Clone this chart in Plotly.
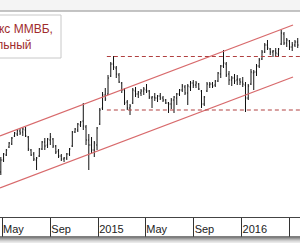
import plotly.graph_objects as go
import pandas as pd

# ---- data (weekly bars, MICEX index) ----
start_date = "2014-04-28"
n_bars = 109
opens = [1360, 1408, 1428, 1460, 1472, 1504, 1512, 1524, 1520, 1528,
         1500, 1448, 1432, 1408, 1424, 1452, 1480, 1468, 1488, 1492,
         1464, 1444, 1424, 1412, 1416, 1432, 1464, 1520, 1528, 1548,
         1564, 1540, 1488, 1468, 1448, 1468, 1552, 1616, 1668, 1672,
         1744, 1792, 1776, 1748, 1716, 1688, 1640, 1616, 1636, 1684,
         1672, 1676, 1684, 1688, 1684, 1656, 1660, 1656, 1664, 1656,
         1648, 1636, 1632, 1648, 1656, 1672, 1688, 1700, 1676, 1700,
         1716, 1708, 1712, 1684, 1632, 1684, 1708, 1712, 1708, 1724,
         1752, 1784, 1792, 1752, 1728, 1736, 1728, 1728, 1720, 1708,
         1656, 1712, 1756, 1760, 1784, 1812, 1840, 1868, 1852, 1840,
         1844, 1832, 1872, 1912, 1876, 1884, 1860, 1868, 1880]
highs = [1420, 1436, 1452, 1480, 1500, 1520, 1532, 1536, 1540, 1540,
         1504, 1452, 1440, 1420, 1456, 1484, 1496, 1496, 1516, 1496,
         1468, 1452, 1432, 1420, 1436, 1456, 1524, 1536, 1556, 1564,
         1636, 1548, 1512, 1500, 1484, 1540, 1616, 1680, 1696, 1748,
         1800, 1824, 1784, 1756, 1720, 1696, 1648, 1632, 1696, 1700,
         1684, 1692, 1700, 1712, 1688, 1664, 1676, 1668, 1676, 1664,
         1652, 1640, 1656, 1664, 1676, 1692, 1712, 1708, 1712, 1724,
         1728, 1724, 1716, 1688, 1664, 1720, 1720, 1720, 1728, 1760,
         1788, 1848, 1800, 1764, 1744, 1752, 1748, 1736, 1740, 1720,
         1712, 1772, 1768, 1792, 1816, 1848, 1876, 1888, 1856, 1848,
         1856, 1856, 1928, 1920, 1896, 1888, 1880, 1888, 1896]
lows = [1348, 1400, 1424, 1456, 1468, 1500, 1504, 1508, 1504, 1500,
        1444, 1424, 1404, 1368, 1420, 1448, 1448, 1456, 1468, 1456,
        1432, 1416, 1404, 1400, 1408, 1424, 1460, 1516, 1520, 1540,
        1528, 1468, 1368, 1436, 1420, 1448, 1548, 1608, 1644, 1668,
        1740, 1768, 1736, 1716, 1676, 1628, 1608, 1588, 1632, 1660,
        1656, 1664, 1668, 1676, 1652, 1616, 1644, 1640, 1648, 1640,
        1632, 1596, 1612, 1596, 1628, 1664, 1680, 1668, 1628, 1684,
        1696, 1696, 1688, 1616, 1624, 1680, 1696, 1696, 1700, 1720,
        1736, 1776, 1740, 1708, 1704, 1712, 1708, 1708, 1700, 1600,
        1648, 1708, 1688, 1744, 1776, 1808, 1836, 1848, 1828, 1820,
        1824, 1820, 1868, 1868, 1860, 1848, 1844, 1860, 1856]
closes = [1408, 1432, 1448, 1476, 1496, 1516, 1528, 1516, 1532, 1504,
          1452, 1428, 1412, 1416, 1452, 1480, 1464, 1492, 1500, 1464,
          1440, 1424, 1412, 1416, 1432, 1452, 1520, 1532, 1552, 1560,
          1544, 1488, 1468, 1448, 1476, 1536, 1608, 1668, 1652, 1736,
          1792, 1780, 1752, 1720, 1688, 1636, 1616, 1624, 1688, 1672,
          1680, 1684, 1692, 1684, 1660, 1660, 1656, 1664, 1656, 1648,
          1636, 1632, 1648, 1660, 1672, 1688, 1704, 1676, 1704, 1716,
          1708, 1716, 1692, 1632, 1660, 1712, 1712, 1704, 1724, 1756,
          1784, 1796, 1748, 1728, 1736, 1724, 1732, 1720, 1712, 1656,
          1704, 1760, 1760, 1784, 1808, 1840, 1868, 1856, 1840, 1844,
          1836, 1852, 1916, 1876, 1888, 1860, 1868, 1880, 1868]

# channel lines and levels
channel_dates = ["2014-04-25 22:00", "2016-05-11"]
channel_upper = [1504, 1948]
channel_lower = [1296, 1740]
level_dates = ["2015-01-23", "2016-06-15"]
level_high = 1822
level_low = 1608

tick_dates = ["2014-05-01", "2014-09-01", "2015-01-01", "2015-05-01",
              "2015-09-01", "2016-01-01", "2016-05-01"]
tick_labels = ["May", "Sep", "2015", "May", "Sep", "2016", "May"]
legend_text = "Индекс ММВБ,<br>недельный"

dates = pd.date_range(start_date, periods=n_bars, freq="7D")

# ---- figure ----
W, H = 300, 250
TOP, BOT = 12, 217


def py(y):
    return (BOT - y) / (BOT - TOP)


def px(x):
    return x / W


fig = go.Figure()
fig.add_trace(go.Ohlc(
    x=dates, open=opens, high=highs, low=lows, close=closes,
    increasing=dict(line=dict(color="#111111", width=1)),
    decreasing=dict(line=dict(color="#111111", width=1)),
    tickwidth=0.3, hoverinfo="skip", showlegend=False))

for vals in (channel_upper, channel_lower):
    fig.add_trace(go.Scatter(x=channel_dates, y=vals, mode="lines",
                             line=dict(color="#d86a6c", width=1.3),
                             hoverinfo="skip", showlegend=False))
for lv in (level_high, level_low):
    fig.add_trace(go.Scatter(x=level_dates, y=[lv, lv], mode="lines",
                             line=dict(color="#b04040", width=1, dash="4px,3px"),
                             hoverinfo="skip", showlegend=False))

shapes = [
    dict(type="rect", xref="paper", yref="paper", x0=-0.01, x1=1.01,
         y0=py(10.5), y1=py(-1), fillcolor="#f4f4f4", line=dict(width=0), layer="below"),
    dict(type="line", xref="paper", yref="paper", x0=-0.01, x1=1.01,
         y0=py(11), y1=py(11), line=dict(color="#8a8a8a", width=1)),
    dict(type="line", xref="paper", yref="paper", x0=-0.01, x1=1.01,
         y0=py(237), y1=py(237), line=dict(color="#555555", width=1.5)),
]
for i, c in enumerate(["#9a9a9a", "#b5b5b5", "#cccccc", "#dddddd", "#e9e9e9"]):
    yy = 238.5 + i
    shapes.append(dict(type="line", xref="paper", yref="paper", x0=-0.01, x1=1.01,
                       y0=py(yy), y1=py(yy), line=dict(color=c, width=1)))
shapes.append(dict(type="rect", xref="paper", yref="paper", x0=-0.1, x1=px(61),
                   y0=py(58), y1=py(15), fillcolor="white",
                   line=dict(color="#c8c8c8", width=1), layer="above"))

fig.update_layout(
    width=W, height=H,
    margin=dict(l=0, r=0, t=TOP, b=H - BOT, autoexpand=False),
    paper_bgcolor="white", plot_bgcolor="white",
    shapes=shapes,
    annotations=[dict(text=legend_text, xref="paper", yref="paper",
                      x=px(-32), y=py(19.5), xanchor="left", yanchor="top",
                      align="left", showarrow=False,
                      font=dict(family="Liberation Sans, Arial", size=12, color="#a02c2c"))],
    xaxis=dict(type="date", range=["2014-04-25 22:00", "2016-05-28 19:00"],
               showgrid=False, zeroline=False, showline=True, linecolor="#444444",
               linewidth=1, ticks="outside", ticklen=19, tickcolor="#333333",
               tickwidth=1, tickvals=tick_dates, ticktext=tick_labels,
               tickfont=dict(family="Liberation Sans, Arial", size=11, color="#222222"),
               ticklabelposition="outside right", ticklabelstandoff=2,
               rangeslider=dict(visible=False), fixedrange=True, automargin=False),
    yaxis=dict(range=[1180, 2000], visible=False, fixedrange=True),
)

fig.write_html("out.html")
